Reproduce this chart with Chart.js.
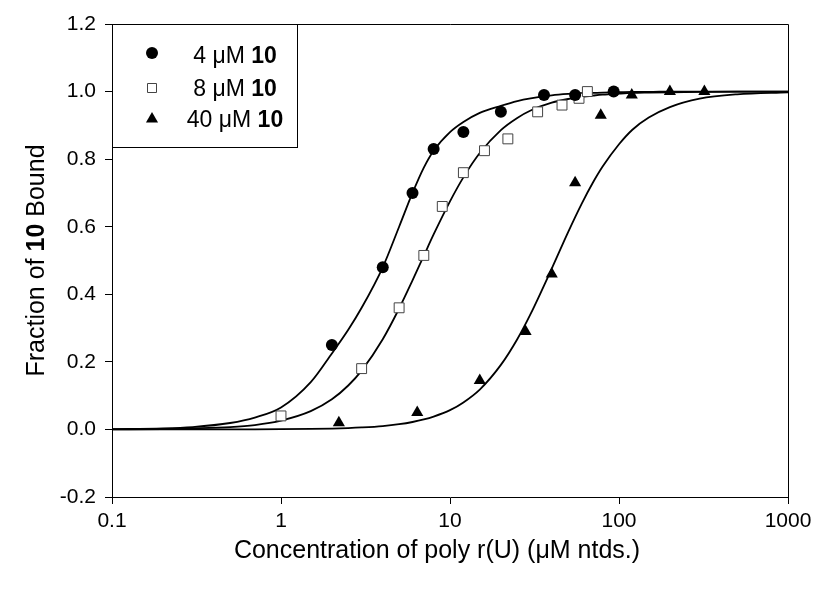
<!DOCTYPE html>
<html>
<head>
<meta charset="utf-8">
<script src="https://cdn.jsdelivr.net/npm/chart.js@4.4.0/dist/chart.umd.min.js"></script>
<style>
  html, body { margin: 0; padding: 0; background: #fff; }
  #wrap { width: 817px; height: 592px; }
</style>
</head>
<body>
<div id="wrap"><canvas id="chart" width="817" height="592"></canvas></div>
<script>
// measured points: poly r(U) concentration (uM ntds.) vs fraction of 10 bound
const conc4 = [2, 4, 6, 8, 12, 20, 36, 55, 93];
const frac4 = [0.25, 0.48, 0.70, 0.83, 0.88, 0.94, 0.99, 0.99, 1.00];
const conc8 = [1, 3, 5, 7, 9, 12, 16, 22, 33, 46, 58, 65];
const frac8 = [0.04, 0.18, 0.36, 0.515, 0.66, 0.76, 0.825, 0.86, 0.94, 0.96, 0.98, 1.00];
const conc40 = [2.2, 6.4, 15, 28, 40, 55, 78, 119, 200, 320];
const frac40 = [0.02, 0.05, 0.145, 0.29, 0.46, 0.73, 0.93, 0.99, 1.00, 1.00];

// fitted binding curves, sampled along the x axis
const fitX = [0.1, 0.2, 0.3, 0.5, 0.7, 1, 1.5, 2, 2.5, 3, 4, 5, 6, 7, 8, 10, 12, 15, 20, 25, 30, 40, 50, 60, 70, 80, 100, 120, 150, 200, 300, 500, 1000];
const fit4 = [0.001, 0.003, 0.007, 0.019, 0.035, 0.065, 0.14, 0.225, 0.295, 0.36, 0.48, 0.60, 0.70, 0.775, 0.825, 0.88, 0.91, 0.937, 0.958, 0.972, 0.98, 0.989, 0.993, 0.995, 0.996, 0.997, 0.998, 0.999, 0.999, 1.0, 1.0, 1.0, 1.0];
const fit8 = [0.0003, 0.001, 0.003, 0.007, 0.013, 0.026, 0.054, 0.089, 0.130, 0.174, 0.267, 0.358, 0.441, 0.514, 0.577, 0.675, 0.746, 0.818, 0.886, 0.922, 0.944, 0.967, 0.978, 0.984, 0.988, 0.991, 0.994, 0.996, 0.997, 0.998, 0.999, 1.0, 1.0];
const fit40 = [0, 0, 0.0001, 0.0002, 0.0003, 0.0007, 0.0015, 0.0026, 0.004, 0.0058, 0.010, 0.0155, 0.022, 0.0295, 0.038, 0.057, 0.080, 0.118, 0.191, 0.267, 0.342, 0.476, 0.584, 0.667, 0.730, 0.778, 0.844, 0.887, 0.923, 0.954, 0.979, 0.992, 0.998];

const xTicks = [0.1, 1, 10, 100, 1000];
const yMin = -0.2, yMax = 1.2, yStep = 0.2;
const seriesNames = ['4 \u03bcM ', '8 \u03bcM ', '40 \u03bcM '];
const compoundId = '10';
const yTitle = ['Fraction of ', compoundId, ' Bound'];
const xTitle = 'Concentration of poly r(U) (\u03bcM ntds.)';

const FAMILY = '"Liberation Sans", Arial, Helvetica, sans-serif';
const font = (size, bold) => (bold ? 'bold ' : '') + size + 'px ' + FAMILY;

const pts = (xs, ys) => xs.map((x, i) => ({ x: x, y: ys[i] }));

function curve(ys) {
  return {
    data: pts(fitX, ys),
    showLine: true,
    borderColor: '#000',
    borderWidth: 1.8,
    pointRadius: 0,
    cubicInterpolationMode: 'monotone',
    order: 2
  };
}

// legend symbols, same look as the plotted points
function marker(ctx, kind, x, y) {
  ctx.beginPath();
  if (kind === 'circle') {
    ctx.arc(x, y, 6, 0, Math.PI * 2);
    ctx.fillStyle = '#000';
    ctx.fill();
  } else if (kind === 'rect') {
    ctx.rect(x - 4.5, y - 4.5, 9, 9);
    ctx.fillStyle = '#fff';
    ctx.fill();
    ctx.strokeStyle = '#444';
    ctx.lineWidth = 1;
    ctx.stroke();
  } else {
    const r = 7;
    ctx.moveTo(x, y - r);
    ctx.lineTo(x + r * Math.sin(Math.PI * 2 / 3), y + r / 2);
    ctx.lineTo(x - r * Math.sin(Math.PI * 2 / 3), y + r / 2);
    ctx.closePath();
    ctx.fillStyle = '#000';
    ctx.fill();
  }
}

// text runs with mixed weight, laid out left to right from x
function drawRuns(ctx, runs, x, y) {
  runs.forEach(r => {
    ctx.font = font(r.size, r.bold);
    ctx.fillText(r.text, x, y);
    x += ctx.measureText(r.text).width;
  });
}
function runsWidth(ctx, runs) {
  return runs.reduce((w, r) => { ctx.font = font(r.size, r.bold); return w + ctx.measureText(r.text).width; }, 0);
}

const decorations = {
  id: 'decorations',
  afterDatasetsDraw(chart) {
    const { ctx, chartArea: a } = chart;
    ctx.save();
    ctx.strokeStyle = '#000';
    ctx.lineWidth = 1;
    // top and right edges of the frame
    ctx.beginPath();
    ctx.moveTo(a.left, a.top + 0.5);
    ctx.lineTo(a.right + 0.5, a.top + 0.5);
    ctx.lineTo(a.right + 0.5, a.bottom);
    ctx.stroke();

    // legend box
    const bx = a.left + 0.5, by = a.top + 0.5, bw = 185, bh = 123;
    ctx.fillStyle = '#fff';
    ctx.fillRect(bx, by, bw, bh);
    ctx.strokeRect(bx, by, bw, bh);
    const kinds = ['circle', 'rect', 'triangle'];
    const rowY = [57, 90, 121];
    const markY = [53, 88, 119];
    ctx.textBaseline = 'middle';
    ctx.textAlign = 'left';
    seriesNames.forEach((name, i) => {
      marker(ctx, kinds[i], a.left + 40, markY[i]);
      const runs = [{ text: name, size: 23 }, { text: compoundId, size: 23, bold: true }];
      ctx.fillStyle = '#000';
      drawRuns(ctx, runs, a.left + 123 - runsWidth(ctx, runs) / 2, rowY[i]);
    });

    // axis titles
    ctx.fillStyle = '#000';
    const xr = [{ text: xTitle, size: 25 }];
    drawRuns(ctx, xr, 437 - runsWidth(ctx, xr) / 2, 551);
    const yr = [{ text: yTitle[0], size: 25 }, { text: yTitle[1], size: 25, bold: true }, { text: yTitle[2], size: 25 }];
    ctx.translate(37, (a.top + a.bottom) / 2);
    ctx.rotate(-Math.PI / 2);
    drawRuns(ctx, yr, -runsWidth(ctx, yr) / 2, 0);
    ctx.restore();
  }
};

new Chart(document.getElementById('chart'), {
  type: 'scatter',
  data: {
    datasets: [
      { data: pts(conc4, frac4), pointStyle: 'circle', pointRadius: 6, backgroundColor: '#000', borderColor: '#000', borderWidth: 0, order: 0 },
      { data: pts(conc8, frac8), pointStyle: 'rect', pointRadius: 7, backgroundColor: '#fff', borderColor: '#444', borderWidth: 1, order: 0 },
      { data: pts(conc40, frac40), pointStyle: 'triangle', pointRadius: 7, backgroundColor: '#000', borderColor: '#000', borderWidth: 0, order: 0 },
      curve(fit4),
      curve(fit8),
      curve(fit40)
    ]
  },
  options: {
    responsive: false,
    animation: false,
    devicePixelRatio: 1,
    layout: { padding: { left: 0, top: 24, right: 29, bottom: 0 } },
    plugins: { legend: { display: false }, tooltip: { enabled: false } },
    scales: {
      x: {
        type: 'logarithmic',
        min: 0.1,
        max: 1000,
        afterBuildTicks: s => { s.ticks = xTicks.map(v => ({ value: v })); },
        afterFit: s => { s.height = 95; },
        grid: { drawOnChartArea: false, tickLength: 7, color: '#000' },
        border: { color: '#000', width: 1 },
        ticks: {
          autoSkip: false, maxRotation: 0, padding: 5, color: '#000',
          font: { family: FAMILY, size: 21 },
          callback: v => String(v)
        }
      },
      y: {
        min: yMin,
        max: yMax,
        afterFit: s => { s.width = 112; },
        grid: { drawOnChartArea: false, tickLength: 7, color: '#000' },
        border: { color: '#000', width: 1 },
        ticks: {
          stepSize: yStep, padding: 9, color: '#000',
          font: { family: FAMILY, size: 21 },
          callback: v => (Math.abs(v) < 1e-9 ? 0 : v).toFixed(1)
        }
      }
    }
  },
  plugins: [decorations]
});
</script>
</body>
</html>
